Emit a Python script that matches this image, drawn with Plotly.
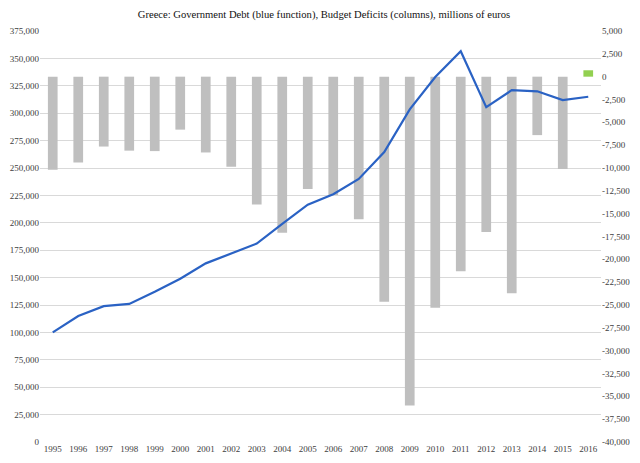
import plotly.graph_objects as go

years = list(range(1995, 2017))

# government debt, millions of euros (left axis)
debt = [100000, 115000, 124000, 126000, 137000, 149000, 163000, 172000,
        181000, 199000, 216500, 226000, 240000, 264500, 303500, 333000,
        356500, 305500, 321000, 320000, 312000, 315000]

# budget balance, millions of euros (right axis)
deficit = [-10200, -9400, -7650, -8100, -8150, -5800, -8300, -9850,
           -14000, -17100, -12300, -12950, -15600, -24650, -36000, -25300,
           -21300, -17000, -23700, -6400, -10100, 700]

left_ticks = list(range(0, 375001, 25000))
right_ticks = list(range(-40000, 5001, 2500))

bar_colors = ["#BFBFBF" if v < 0 else "#92D050" for v in deficit]

font = "Liberation Serif, Times New Roman, serif"
tick_font = dict(family=font, size=9, color="#404040")

fig = go.Figure()
fig.add_trace(
    go.Bar(
        x=years,
        y=deficit,
        width=0.38,
        marker=dict(color=bar_colors, line=dict(width=0)),
        yaxis="y",
        showlegend=False,
        hoverinfo="x+y",
    )
)
fig.add_trace(
    go.Scatter(
        x=years,
        y=debt,
        mode="lines",
        line=dict(color="#2A62C4", width=2.2),
        yaxis="y2",
        showlegend=False,
    )
)

# page body has an 8px default margin, so the figure is sized to fit the window
fig.update_layout(
    width=632,
    height=455,
    margin=dict(l=32, r=39, t=23, b=21),
    paper_bgcolor="white",
    plot_bgcolor="white",
    font=dict(family=font, size=9, color="#404040"),
    title=dict(
        text="Greece: Government Debt (blue function), Budget Deficits (columns), millions of euros",
        x=0.5,
        xanchor="center",
        y=0.987,
        yanchor="middle",
        font=dict(family=font, size=10.6, color="#111111"),
    ),
    xaxis=dict(
        range=[1994.5, 2016.5],
        tickvals=years,
        ticktext=[str(y) for y in years],
        showgrid=False,
        zeroline=False,
        showline=False,
        ticks="",
        automargin=False,
        tickfont=tick_font,
    ),
    yaxis=dict(
        side="right",
        range=[-40000, 5000],
        tickvals=right_ticks,
        ticktext=[f"{v:,}" for v in right_ticks],
        showgrid=False,
        zeroline=False,
        showline=False,
        ticks="",
        automargin=False,
        tickfont=tick_font,
    ),
    yaxis2=dict(
        side="left",
        overlaying="y",
        range=[0, 375000],
        tickvals=left_ticks,
        ticktext=[f"{v:,}" for v in left_ticks],
        showgrid=True,
        gridcolor="#D9D9D9",
        gridwidth=1,
        zeroline=False,
        showline=False,
        ticks="",
        automargin=False,
        tickfont=tick_font,
    ),
)

fig.write_html("out.html")
